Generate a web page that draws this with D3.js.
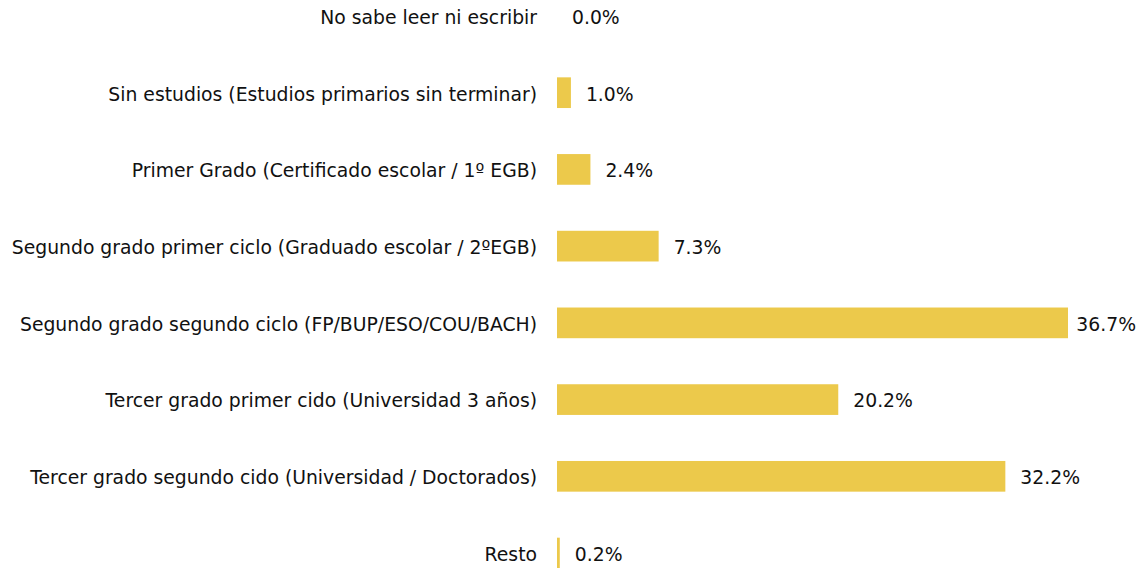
<!DOCTYPE html>
<html><head><meta charset="utf-8">
<script src="https://cdn.jsdelivr.net/npm/d3@7"></script>
<style>body{margin:0;background:#fff}svg{display:block}</style>
</head><body>
<script>
const categories = [
  "No sabe leer ni escribir",
  "Sin estudios (Estudios primarios sin terminar)",
  "Primer Grado (Certificado escolar / 1º EGB)",
  "Segundo grado primer ciclo (Graduado escolar / 2ºEGB)",
  "Segundo grado segundo ciclo (FP/BUP/ESO/COU/BACH)",
  "Tercer grado primer cido (Universidad 3 años)",
  "Tercer grado segundo cido (Universidad / Doctorados)",
  "Resto"
];
const values = [0.0, 1.0, 2.4, 7.3, 36.7, 20.2, 32.2, 0.2];
const valueLabels = ["0.0%", "1.0%", "2.4%", "7.3%", "36.7%", "20.2%", "32.2%", "0.2%"];

const W = 1144, H = 568;
const svg = d3.select("body").append("svg").attr("width", W).attr("height", H);
const x0 = 557;
const x = d3.scaleLinear().domain([0, 36.7]).range([x0, 1068]);
const y = d3.scaleBand().domain(categories).range([-22.4, 591.4]).paddingInner(0.6).paddingOuter(0.3);
const font = "'DejaVu Sans', Verdana, sans-serif";
const fs = 18.8;

svg.selectAll("rect.bar").data(categories).join("rect")
  .attr("class", "bar")
  .attr("x", x0)
  .attr("y", d => y(d))
  .attr("width", (d, i) => x(values[i]) - x0)
  .attr("height", y.bandwidth())
  .attr("fill", "#ECC94B");

svg.selectAll("text.cat").data(categories).join("text")
  .attr("class", "cat")
  .attr("x", 537)
  .attr("y", d => y(d) + y.bandwidth() / 2)
  .attr("dy", "0.42em")
  .attr("text-anchor", "end")
  .attr("font-family", font)
  .attr("font-size", fs)
  .attr("fill", "#111")
  .text(d => d);

const vl = svg.selectAll("text.val").data(categories).join("text")
  .attr("class", "val")
  .attr("y", d => y(d) + y.bandwidth() / 2)
  .attr("dy", "0.42em")
  .attr("font-family", font)
  .attr("font-size", fs)
  .attr("fill", "#111")
  .text((d, i) => valueLabels[i]);
vl.each(function(d, i) {
  const w = this.getComputedTextLength();
  const px = Math.min(x(values[i]) + 15, W - 8 - w);
  d3.select(this).attr("x", px);
});
</script>
</body></html>
